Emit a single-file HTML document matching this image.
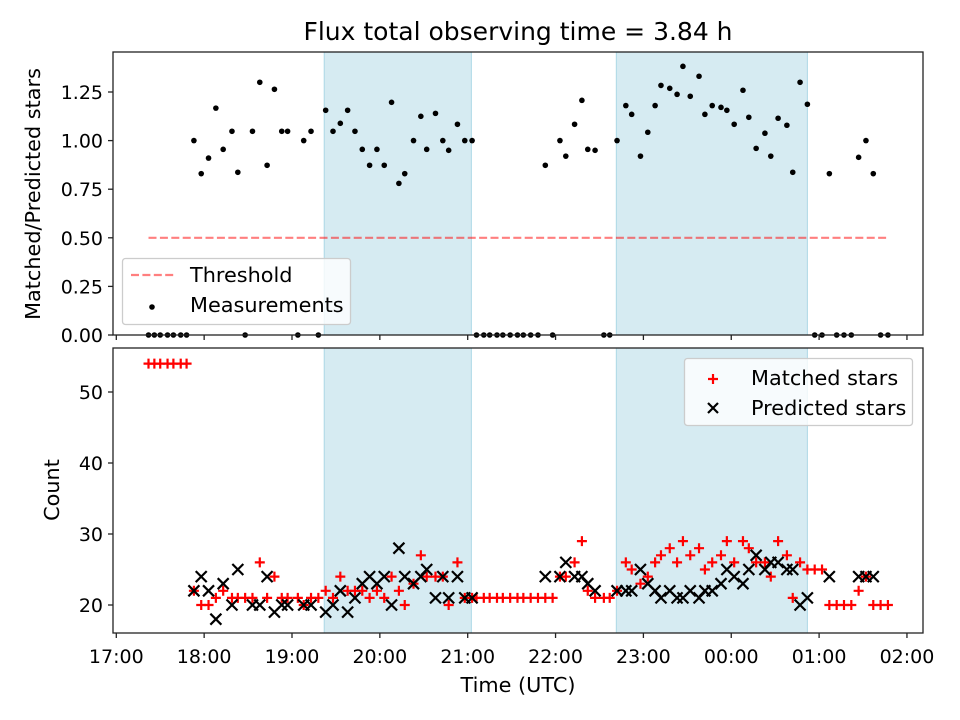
<!DOCTYPE html>
<html><head><meta charset="utf-8"><style>
html,body{margin:0;padding:0;background:#fff;}
svg{display:block;font-family:"DejaVu Sans","Liberation Sans",sans-serif;}
</style></head><body>
<svg id="chart" width="960" height="720" viewBox="0 0 960 720">
<text x="518" y="40" font-size="25" text-anchor="middle" fill="#000">Flux total observing time = 3.84 h</text>
<g id="topPanel"></g>
<g id="botPanel"></g>
<text transform="translate(40,194) rotate(-90)" font-size="20.8" text-anchor="middle">Matched/Predicted stars</text>
<text transform="translate(59,490) rotate(-90)" font-size="20.8" text-anchor="middle">Count</text>
<text x="518" y="692" font-size="20.8" text-anchor="middle">Time (UTC)</text>
</svg>
<script>
// minutes since 17:00 UTC
const times=[22,26,30,35,39,44,48,53,58,63,68,73,79,83,88,93,98,103,108,113,117,124,128,133,138,143,148,153,158,163,168,173,178,183,188,193,197,203,208,212,218,223,227,233,238,243,246,251,255,260,264,269,274,278,283,288,293,298,303,307,313,318,322,327,333,337,342,348,352,358,363,368,372,378,383,387,392,398,402,407,413,417,422,428,432,437,443,447,452,458,462,467,472,477,482,487,492,497,502,507,512,517,522,527];
const ratio=[0,0,0,0,0,0,0,1.0,0.83,0.91,1.167,0.955,1.048,0.837,0,1.048,1.30,0.873,1.264,1.048,1.048,0,1.0,1.048,0,1.156,1.048,1.089,1.156,1.048,0.955,0.873,0.955,0.873,1.197,0.78,0.83,1.0,1.125,0.955,1.14,1.0,0.95,1.084,1.0,1.0,0,0,0,0,0,0,0,0,0,0,0.873,0,1.0,0.92,1.084,1.207,0.955,0.95,0,0,1.0,1.18,1.135,0.92,1.043,1.18,1.284,1.269,1.238,1.382,1.228,1.331,1.135,1.18,1.171,1.156,1.084,1.259,1.12,0.96,1.038,0.92,1.115,1.079,0.837,1.30,1.187,0,0,0.83,0,0,0,0.914,1.0,0.83,0,0];
const matched=[54,54,54,54,54,54,54,22,20,20,21,22,21,21,21,21,26,21,24,21,21,21,20,21,21,22,21,24,22,22,22,21,22,21,24,22,20,23,27,24,24,24,20,26,21,21,21,21,21,21,21,21,21,21,21,21,21,21,24,24,26,29,22,21,21,21,22,26,25,23,24,26,27,28,26,29,27,28,25,26,27,29,26,29,28,26,26,24,29,27,21,26,25,25,25,20,20,20,20,22,24,20,20,20];
const predicted=[null,null,null,null,null,null,null,22,24,22,18,23,20,25,null,20,20,24,19,20,20,null,20,20,null,19,20,22,19,21,23,24,23,24,20,28,24,23,24,25,21,24,21,24,21,21,null,null,null,null,null,null,null,null,null,null,24,null,24,26,24,24,23,22,null,null,22,22,22,25,23,22,21,22,21,21,22,21,22,22,23,25,24,23,25,27,25,26,26,25,25,20,21,null,null,24,null,null,null,24,24,24,null,null];
const shadeStart=[142,341.5];
const shadeEnd=[242.5,472];
const threshold=0.5;
const thrStart=22, thrEnd=527;
const xTickLabels=["17:00","18:00","19:00","20:00","21:00","22:00","23:00","00:00","01:00","02:00"];
const topTicks=[0,0.25,0.5,0.75,1.0,1.25];
const botTicks=[20,30,40,50];

const NS="http://www.w3.org/2000/svg";
function mk(p,tag,at){const e=document.createElementNS(NS,tag);for(const k in at)e.setAttribute(k,at[k]);p.appendChild(e);return e;}
const L=113,R=923;
const xOf=m=>116.3+m/60*87.85;
const yTop=v=>335-v*194.4;
const yBot=v=>605-(v-20)*7.1;
const topG=document.getElementById('topPanel'), botG=document.getElementById('botPanel');

function panel(g,y0,y1,ticks,yf,fmt,prefix){
  mk(g,'rect',{x:L,y:y0,width:R-L,height:y1-y0,fill:'#fff'});
  shadeStart.forEach((s,i)=>{
    const r=mk(g,'rect',{x:xOf(s),y:y0,width:xOf(shadeEnd[i])-xOf(s),height:y1-y0,fill:'#add8e6','fill-opacity':0.5,stroke:'#add8e6','stroke-width':1});
    
    
  });
  ticks.forEach(t=>{
    const y=yf(t);
    mk(g,'line',{x1:L-5,x2:L,y1:y,y2:y,stroke:'#222','stroke-width':1.3});
    const tx=mk(g,'text',{x:L-10,y:y+7,'font-size':19,'text-anchor':'end'});
    tx.textContent=fmt(t);
    
    
  });
  xTickLabels.forEach((lab,i)=>{
    const x=xOf(i*60);
    mk(g,'line',{x1:x,x2:x,y1:y1,y2:y1+5,stroke:'#222','stroke-width':1.3});
  });
}
panel(topG,52,335,topTicks,yTop,v=>v.toFixed(2),'ratio');
panel(botG,348,633,botTicks,yBot,v=>String(v),'count');
xTickLabels.forEach((lab,i)=>{
  const t=mk(botG,'text',{x:xOf(i*60),y:663,'font-size':19,'text-anchor':'middle'});
  t.textContent=lab;
  
  
});
const th=mk(topG,'line',{x1:xOf(thrStart),x2:xOf(thrEnd),y1:yTop(threshold),y2:yTop(threshold),stroke:'#ff0000','stroke-opacity':0.5,'stroke-width':2.2,'stroke-dasharray':'8,3.4'});


times.forEach((m,i)=>{
  const c=mk(topG,'circle',{cx:xOf(m),cy:yTop(ratio[i]),r:2.8,fill:'#000'});
  
  
});
times.forEach((m,i)=>{
  const x=xOf(m),y=yBot(matched[i]),s=5;
  const p=mk(botG,'path',{d:`M${x-s},${y}H${x+s}M${x},${y-s}V${y+s}`,stroke:'#ff0000','stroke-width':2.2,fill:'none'});
  
  
});
times.forEach((m,i)=>{
  if(predicted[i]===null)return;
  const x=xOf(m),y=yBot(predicted[i]),s=5.5;
  const p=mk(botG,'path',{d:`M${x-s},${y-s}L${x+s},${y+s}M${x-s},${y+s}L${x+s},${y-s}`,stroke:'#000','stroke-width':2.2,fill:'none'});
  
  
});
mk(topG,'rect',{x:L,y:52,width:R-L,height:283,fill:'none',stroke:'#222','stroke-width':1.3});
mk(botG,'rect',{x:L,y:348,width:R-L,height:285,fill:'none',stroke:'#222','stroke-width':1.3});
const lg1=mk(topG,'g',{});


mk(lg1,'rect',{x:122.5,y:258.5,width:228,height:66,rx:3,fill:'#fff','fill-opacity':0.8,stroke:'#ccc','stroke-width':1.3});
mk(lg1,'line',{x1:131,x2:174,y1:275,y2:275,stroke:'#ff0000','stroke-opacity':0.5,'stroke-width':2.2,'stroke-dasharray':'8,3.4'});
let t=mk(lg1,'text',{x:190,y:282,'font-size':20.8});t.textContent='Threshold';
mk(lg1,'circle',{cx:152,cy:307,r:2.8,fill:'#000'});
t=mk(lg1,'text',{x:190,y:312,'font-size':20.8});t.textContent='Measurements';
const lg2=mk(botG,'g',{});


mk(lg2,'rect',{x:684.5,y:358.5,width:228,height:67,rx:3,fill:'#fff','fill-opacity':0.8,stroke:'#ccc','stroke-width':1.3});
mk(lg2,'path',{d:'M708,379H718M713,374V384',stroke:'#ff0000','stroke-width':2.2});
t=mk(lg2,'text',{x:751,y:385,'font-size':20.8});t.textContent='Matched stars';
mk(lg2,'path',{d:'M708,403L718,413M708,413L718,403',stroke:'#000','stroke-width':2.2});
t=mk(lg2,'text',{x:751,y:415,'font-size':20.8});t.textContent='Predicted stars';
</script>
</body></html>
